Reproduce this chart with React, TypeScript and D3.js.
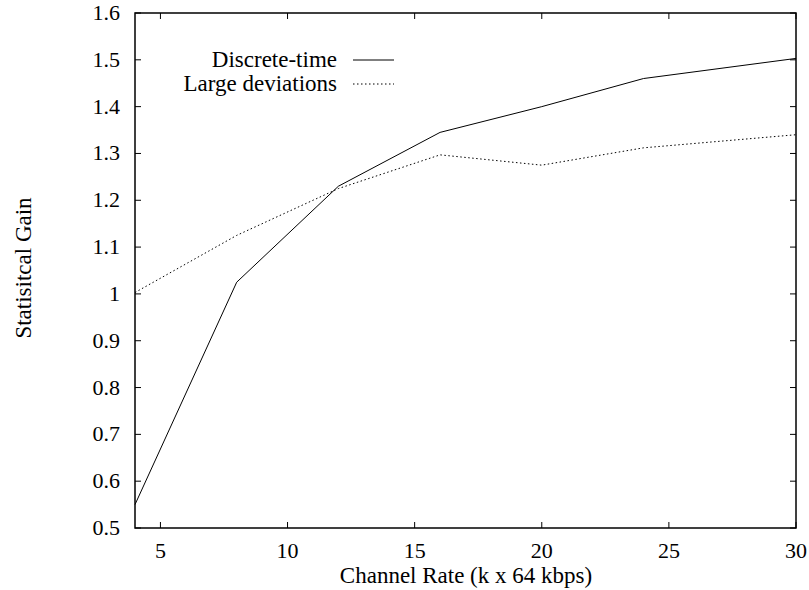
import React from "react";
import * as d3 from "d3";

const xValues = [4, 8, 12, 16, 20, 24, 30];
const discreteTime = [0.55, 1.025, 1.23, 1.345, 1.40, 1.46, 1.503];
const largeDeviations = [1.003, 1.125, 1.225, 1.297, 1.275, 1.312, 1.34];
const xTicks = [5, 10, 15, 20, 25, 30];
const yTicks = [0.5, 0.6, 0.7, 0.8, 0.9, 1.0, 1.1, 1.2, 1.3, 1.4, 1.5, 1.6];
const seriesNames = ["Discrete-time", "Large deviations"];

const W = 809, H = 590;
const left = 135, right = 796, top = 13, bottom = 528;
const font = "'Liberation Serif', 'Times New Roman', serif";
const fsTick = 22;
const fs = 23;

export default function App() {
  const x = d3.scaleLinear().domain([4, 30]).range([left, right]);
  const y = d3.scaleLinear().domain([0.5, 1.6]).range([bottom, top]);
  const line = d3.line<number>().x((_, i) => x(xValues[i])).y((d) => y(d));
  const tl = 6;
  return (
    <svg width={W} height={H} style={{ position: "absolute", left: 0, top: 0 }}>
      <rect width={W} height={H} fill="white" />
      {xTicks.map((t) => (
        <g key={"x" + t}>
          <line x1={x(t)} x2={x(t)} y1={bottom} y2={bottom - tl} stroke="black" />
          <line x1={x(t)} x2={x(t)} y1={top} y2={top + tl} stroke="black" />
          <text x={x(t)} y={bottom + 30} textAnchor="middle" fontFamily={font} fontSize={fsTick}>{t}</text>
        </g>
      ))}
      {yTicks.map((t) => (
        <g key={"y" + t}>
          <line x1={left} x2={left + tl} y1={y(t)} y2={y(t)} stroke="black" />
          <line x1={right} x2={right - tl} y1={y(t)} y2={y(t)} stroke="black" />
          <text x={120} y={y(t) + 7} textAnchor="end" fontFamily={font} fontSize={fsTick}>{d3.format("~g")(t)}</text>
        </g>
      ))}
      <path d={line(discreteTime) || ""} fill="none" stroke="black" strokeWidth={1} />
      <path d={line(largeDeviations) || ""} fill="none" stroke="black" strokeWidth={1} strokeDasharray="1.5,2.5" />
      <rect x={left} y={top} width={right - left} height={bottom - top} fill="none" stroke="black" strokeWidth={1.5} />
      <text x={337} y={67} textAnchor="end" fontFamily={font} fontSize={fs}>{seriesNames[0]}</text>
      <line x1={353} x2={394} y1={60} y2={60} stroke="black" />
      <text x={337} y={91} textAnchor="end" fontFamily={font} fontSize={fs}>{seriesNames[1]}</text>
      <line x1={353} x2={394} y1={84} y2={84} stroke="black" strokeDasharray="1.5,2.5" />
      <text x={466} y={583} textAnchor="middle" fontFamily={font} fontSize={fs}>Channel Rate (k x 64 kbps)</text>
      <text transform={`translate(31, 268) rotate(-90)`} textAnchor="middle" fontFamily={font} fontSize={fs}>Statisitcal Gain</text>
    </svg>
  );
}
